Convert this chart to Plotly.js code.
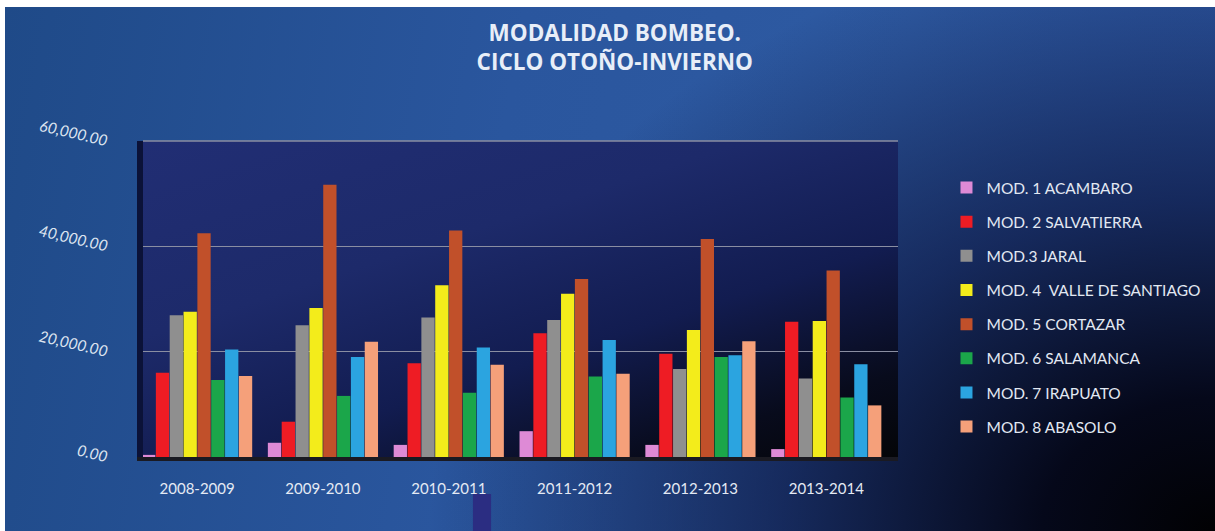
<!DOCTYPE html>
<html>
<head>
<meta charset="utf-8">
<script src="https://cdn.plot.ly/plotly-3.0.1.min.js"></script>
<style>
  html, body { margin: 0; padding: 0; background: #ffffff; }
  #wrap { position: relative; width: 1215px; height: 531px; background: #ffffff; overflow: hidden; }
  #bg { position: absolute; left: 5px; top: 7px; right: 0; bottom: 0;
        background:
          radial-gradient(ellipse 65% 115% at 100% 100%, #010103 0%, #05081a 22%, rgba(14,26,70,0.75) 55%, rgba(30,60,130,0) 100%),
          linear-gradient(100deg, #1f4a88 0%, #2a569e 40%, #2e5aa2 70%, #2c55a0 100%); }
  #plotbg { position: absolute; left: 143px; top: 141px; width: 755px; height: 316px;
        background: linear-gradient(162deg, #212e74 0%, #1d2a6a 35%, #121c50 62%, #080b1c 85%, #040508 100%); }
  #chart { position: absolute; left: 0; top: 0; width: 1215px; height: 531px; }
</style>
</head>
<body>
<div id="wrap"><div id="bg"></div><div id="plotbg"></div><div id="chart"></div></div>
<script>
const categories = ["2008-2009", "2009-2010", "2010-2011", "2011-2012", "2012-2013", "2013-2014"];
const seriesNames = [
  "MOD. 1 ACAMBARO",
  "MOD. 2 SALVATIERRA",
  "MOD.3 JARAL",
  "MOD. 4  VALLE DE SANTIAGO",
  "MOD. 5 CORTAZAR",
  "MOD. 6 SALAMANCA",
  "MOD. 7 IRAPUATO",
  "MOD. 8 ABASOLO"
];
const mod1 = [400, 2700, 2300, 4900, 2300, 1500];
const mod2 = [16000, 6700, 17800, 23500, 19600, 25700];
const mod3 = [26900, 25000, 26500, 26000, 16700, 14900];
const mod4 = [27600, 28300, 32600, 31000, 24100, 25800];
const mod5 = [42500, 51700, 43000, 33800, 41400, 35400];
const mod6 = [14600, 11600, 12200, 15300, 19000, 11300];
const mod7 = [20400, 19000, 20800, 22200, 19300, 17600];
const mod8 = [15400, 21900, 17500, 15800, 22000, 9800];
const seriesValues = [mod1, mod2, mod3, mod4, mod5, mod6, mod7, mod8];
const colors = ["#de8ad6", "#ee1c24", "#8f8f8f", "#f3ec1b", "#c1502a", "#1ba64a", "#2ba4e0", "#f5a07a"];

const traces = seriesNames.map((name, i) => ({
  type: "bar",
  name: name,
  x: categories,
  y: seriesValues[i],
  legendgroup: "g" + i,
  marker: { color: colors[i], line: { width: 0 } },
  hoverinfo: "x+y+name"
}));

const layout = {
  width: 1215,
  height: 531,
  margin: { l: 143, r: 317, t: 141, b: 74 },
  paper_bgcolor: "rgba(0,0,0,0)",
  plot_bgcolor: "rgba(0,0,0,0)",
  barmode: "group",
  bargap: 0.12,
  bargroupgap: 0.04,
  showlegend: true,
  font: { family: "'Open Sans', Lato, sans-serif", color: "#e4eaf4" },
  title: {
    text: "MODALIDAD BOMBEO.<br>CICLO OTOÑO-INVIERNO",
    font: { family: "'Open Sans', Lato, sans-serif", size: 22.5, color: "#e8eef8", weight: "bold" },
    xref: "container", x: 0.506, xanchor: "center",
    yref: "container", y: 0.923, yanchor: "middle"
  },
  xaxis: {
    type: "category",
    range: [-0.43, 5.57],
    showgrid: false,
    zeroline: false,
    showline: true,
    linecolor: "#1a1a22",
    linewidth: 4,
    ticks: "",
    ticklabelstandoff: 15,
    tickfont: { family: "Lato, 'Open Sans', sans-serif", size: 15, color: "#e4eaf4" }
  },
  yaxis: {
    range: [0, 60000],
    tickvals: [0, 20000, 40000, 60000],
    tickformat: ",.2f",
    tickangle: 13,
    showgrid: true,
    gridcolor: "#8a8ea2",
    gridwidth: 1.5,
    zeroline: false,
    showline: true,
    linecolor: "#0b1238",
    linewidth: 6,
    ticks: "",
    ticklabelstandoff: 26,
    tickfont: { family: "Lato, 'Open Sans', sans-serif", size: 15.5, color: "#dde4f0", style: "italic" }
  },
  legend: {
    xref: "container", x: 0.779, xanchor: "left",
    yref: "container", y: 0.678, yanchor: "top",
    bgcolor: "rgba(0,0,0,0)",
    font: { family: "Lato, 'Open Sans', sans-serif", size: 15.5, color: "#e2e8f2" },
    tracegroupgap: 11,
    maxheight: 0.95,
    itemclick: false
  },
  shapes: [
    { type: "line", xref: "paper", yref: "paper", x0: 0, x1: 1, y0: 1, y1: 1,
      line: { color: "#8a8ea2", width: 1.5 }, layer: "below" },
    { type: "rect", xref: "paper", yref: "paper", x0: 0.437, x1: 0.461, y0: -0.117, y1: -0.235,
      fillcolor: "#2b2d82", line: { width: 0 }, layer: "below" }
  ]
};

Plotly.newPlot("chart", traces, layout, { displayModeBar: false, staticPlot: true });
</script>
</body>
</html>
